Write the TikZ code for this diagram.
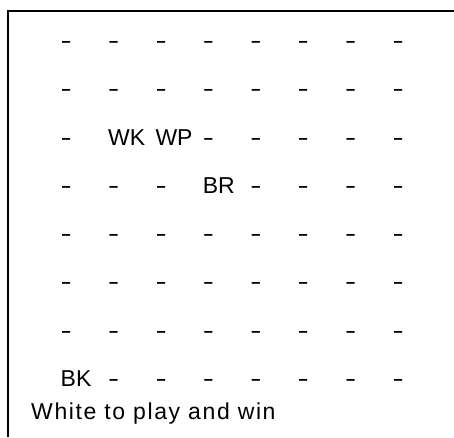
\documentclass[tikz,border=0pt]{standalone}
\usepackage{fontspec}
\setmainfont{Liberation Sans}
\newfontfamily\captionfont[LetterSpace=7]{Liberation Sans}
\usetikzlibrary{positioning}
\newcommand{\e}{\scalebox{1.45}[1]{-}}
\tikzset{
    square/.style={
        anchor=base west,
        inner sep=0pt,
        font=\fontsize{23}{27}\selectfont
    },
    caption/.style={
        anchor=base west,
        inner sep=0pt,
        font=\captionfont\fontsize{23}{27}\selectfont
    },
    frame/.style={draw=black, line width=2pt}
}

\begin{document}
\begin{tikzpicture}[x=1pt, y=-1pt]
    \useasboundingbox (0,0) rectangle (454,437);
    % open frame, cut by the scan
    \coordinate (topright) at (454,10.5);
    \coordinate (topleft) at (7.5,10.5);
    \coordinate (botleft) at (7.5,437);
    \draw[frame] (topright) -- (topleft) -- (botleft);
    % board, rank by rank
    \foreach \row [count=\r from 0] in {
        {\e,\e,\e,\e,\e,\e,\e,\e},
        {\e,\e,\e,\e,\e,\e,\e,\e},
        {\e,WK,WP,\e,\e,\e,\e,\e},
        {\e,\e,\e,BR,\e,\e,\e,\e},
        {\e,\e,\e,\e,\e,\e,\e,\e},
        {\e,\e,\e,\e,\e,\e,\e,\e},
        {\e,\e,\e,\e,\e,\e,\e,\e},
        {BK,\e,\e,\e,\e,\e,\e,\e}}
        \foreach \p [count=\c from 0] in \row
            \node[square] (sq-\r-\c) at (60.5+47.4*\c, 48.5+48.25*\r) {\p};
    \node[caption] (task) at (31,419) {White to play and win};
\end{tikzpicture}
\end{document}
